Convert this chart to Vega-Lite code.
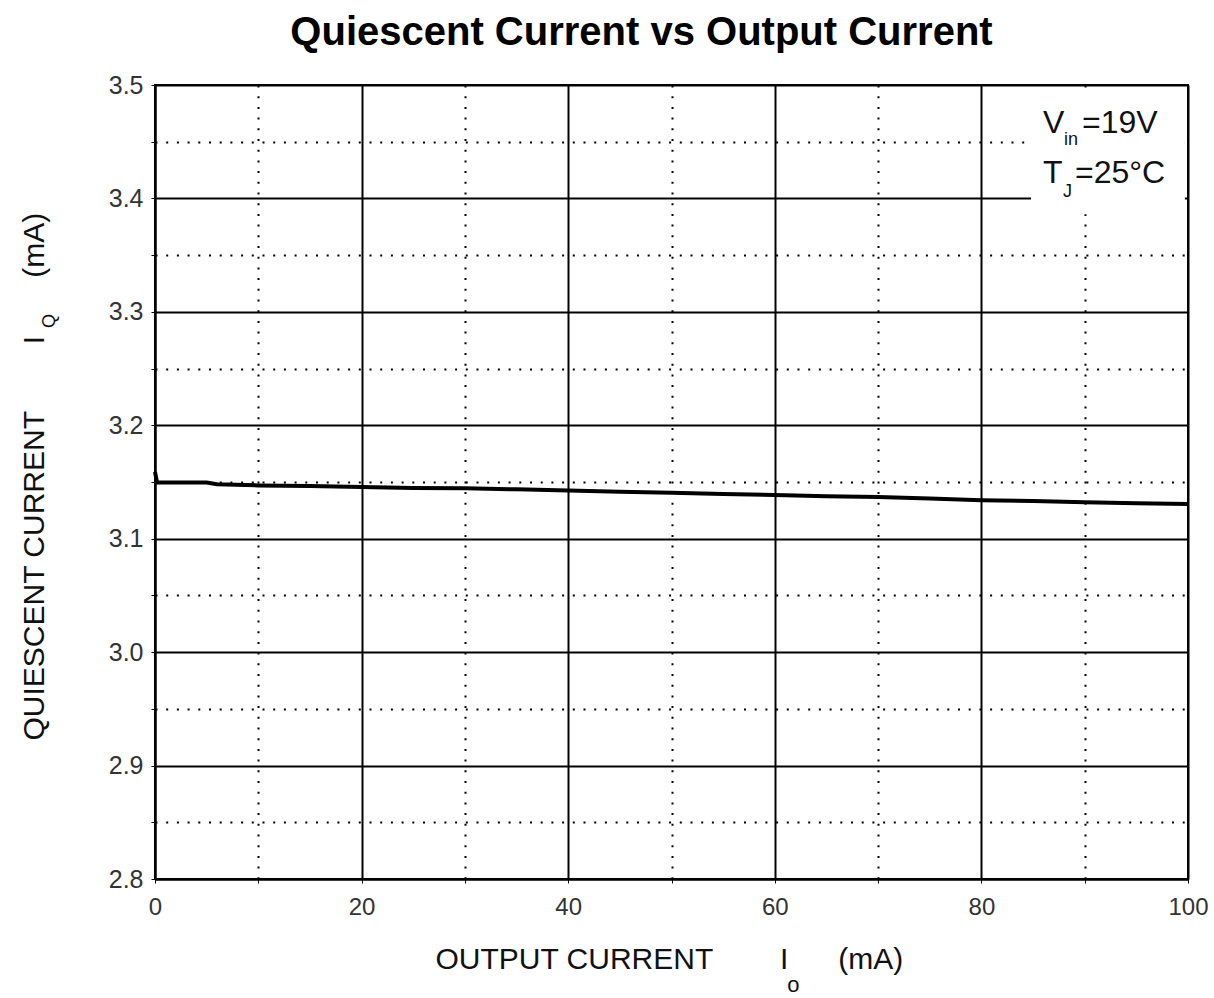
{
  "$schema": "https://vega.github.io/schema/vega-lite/v6.json",
  "width": 1033,
  "height": 794,
  "autosize": "none",
  "padding": {"left": 155, "top": 85, "right": 26, "bottom": 119},
  "background": "white",
  "config": {"view": {"stroke": "black", "strokeWidth": 2}, "font": "Liberation Sans"},
  "title": {
    "text": "Quiescent Current vs Output Current",
    "font": "Liberation Sans",
    "fontSize": 40,
    "fontWeight": "bold",
    "color": "black",
    "anchor": "middle",
    "frame": "group",
    "dx": -30,
    "dy": 50,
    "offset": 38,
    "baseline": "alphabetic"
  },
  "data": {
    "values": [
      {"io": 0, "iq": 3.159},
      {"io": 0.2, "iq": 3.1495},
      {"io": 5, "iq": 3.1495},
      {"io": 6, "iq": 3.148},
      {"io": 10, "iq": 3.147},
      {"io": 15, "iq": 3.1465},
      {"io": 20, "iq": 3.1455},
      {"io": 25, "iq": 3.1447},
      {"io": 30, "iq": 3.1444},
      {"io": 35, "iq": 3.1435},
      {"io": 40, "iq": 3.1425},
      {"io": 45, "iq": 3.1415},
      {"io": 50, "iq": 3.1405},
      {"io": 55, "iq": 3.1395},
      {"io": 60, "iq": 3.1385},
      {"io": 65, "iq": 3.1375},
      {"io": 70, "iq": 3.1368},
      {"io": 75, "iq": 3.1355},
      {"io": 80, "iq": 3.134},
      {"io": 85, "iq": 3.1332},
      {"io": 90, "iq": 3.1322},
      {"io": 95, "iq": 3.1312},
      {"io": 100, "iq": 3.1305}
    ]
  },
  "layer": [
    {
      "mark": {"type": "line", "color": "black", "strokeWidth": 4},
      "encoding": {
        "x": {
          "field": "io",
          "type": "quantitative",
          "scale": {"domain": [0, 100], "nice": false},
          "axis": {
            "values": [0, 10, 20, 30, 40, 50, 60, 70, 80, 90, 100],
            "labelExpr": "datum.value % 20 === 0 ? datum.label : ''",
            "grid": true,
            "gridColor": "black",
            "gridWidth": 2,
            "gridDash": {"condition": {"test": "datum.value % 20 === 0", "value": []}, "value": [2, 8.7]},
            "domainColor": "black",
            "domainWidth": 2,
            "tickColor": "black",
            "tickSize": 4,
            "labelFont": "Liberation Sans",
            "labelFontSize": 24,
            "labelColor": "#333",
            "labelPadding": 12,
            "labelFlush": false,
            "labelOverlap": false,
            "title": "OUTPUT CURRENT\u00a0\u00a0\u00a0\u00a0\u00a0\u00a0\u00a0\u00a0I\u00a0\u00a0\u00a0\u00a0\u00a0\u00a0(mA)",
            "titleFont": "Liberation Sans",
            "titleFontSize": 30,
            "titleFontWeight": "normal",
            "titleColor": "#111",
            "titleAlign": "left",
            "titleX": 280,
            "titleY": 89,
            "titleBaseline": "alphabetic"
          }
        },
        "y": {
          "field": "iq",
          "type": "quantitative",
          "scale": {"domain": [2.8, 3.5], "nice": false, "zero": false},
          "axis": {
            "values": [2.8, 2.85, 2.9, 2.95, 3.0, 3.05, 3.1, 3.15, 3.2, 3.25, 3.3, 3.35, 3.4, 3.45, 3.5],
            "labelExpr": "round(datum.value * 20) % 2 === 0 ? format(datum.value, '.1f') : ''",
            "grid": true,
            "gridColor": "black",
            "gridWidth": 2,
            "gridDash": {"condition": {"test": "round(datum.value * 20) % 2 === 0", "value": []}, "value": [2, 8.7]},
            "domainColor": "black",
            "domainWidth": 2,
            "tickColor": "black",
            "tickSize": 4,
            "labelFont": "Liberation Sans",
            "labelFontSize": 25,
            "labelColor": "#333",
            "labelPadding": 8,
            "labelFlush": false,
            "labelOverlap": false,
            "title": "QUIESCENT CURRENT\u00a0\u00a0\u00a0\u00a0\u00a0\u00a0\u00a0\u00a0I\u00a0\u00a0\u00a0\u00a0\u00a0\u00a0\u00a0(mA)",
            "titleFont": "Liberation Sans",
            "titleFontSize": 30,
            "titleFontWeight": "normal",
            "titleColor": "#111",
            "titleAngle": 270,
            "titleAlign": "left",
            "titleBaseline": "alphabetic",
            "titleX": -112,
            "titleY": 655
          }
        }
      }
    },
    {
      "data": {"values": [{}]},
      "mark": {"type": "rect", "color": "white"},
      "encoding": {
        "x": {"datum": 84.8},
        "x2": {"datum": 99.7},
        "y": {"datum": 3.386},
        "y2": {"datum": 3.497}
      }
    },
    {
      "data": {"values": [{}]},
      "mark": {"type": "text", "text": "V", "fontSize": 32, "align": "left", "baseline": "alphabetic", "color": "#111"},
      "encoding": {"x": {"datum": 85.96}, "y": {"datum": 3.4577}}
    },
    {
      "data": {"values": [{}]},
      "mark": {"type": "text", "text": "in", "fontSize": 18, "align": "left", "baseline": "alphabetic", "color": "#111"},
      "encoding": {"x": {"datum": 88.0}, "y": {"datum": 3.447}}
    },
    {
      "data": {"values": [{}]},
      "mark": {"type": "text", "text": "=19V", "fontSize": 32, "align": "left", "baseline": "alphabetic", "color": "#111"},
      "encoding": {"x": {"datum": 89.74}, "y": {"datum": 3.4577}}
    },
    {
      "data": {"values": [{}]},
      "mark": {"type": "text", "text": "T", "fontSize": 32, "align": "left", "baseline": "alphabetic", "color": "#111"},
      "encoding": {"x": {"datum": 85.96}, "y": {"datum": 3.4136}}
    },
    {
      "data": {"values": [{}]},
      "mark": {"type": "text", "text": "J", "fontSize": 18, "align": "left", "baseline": "alphabetic", "color": "#111"},
      "encoding": {"x": {"datum": 87.9}, "y": {"datum": 3.4012}}
    },
    {
      "data": {"values": [{}]},
      "mark": {"type": "text", "text": "=25°C", "fontSize": 32, "align": "left", "baseline": "alphabetic", "color": "#111"},
      "encoding": {"x": {"datum": 89.06}, "y": {"datum": 3.4136}}
    },
    {
      "data": {"values": [{}]},
      "mark": {"type": "text", "text": "o", "fontSize": 22, "align": "left", "baseline": "alphabetic", "color": "#111"},
      "encoding": {"x": {"datum": 61.2}, "y": {"datum": 2.7002}}
    },
    {
      "data": {"values": [{}]},
      "mark": {"type": "text", "text": "Q", "fontSize": 18, "angle": 270, "align": "left", "baseline": "alphabetic", "color": "#111"},
      "encoding": {"x": {"datum": -9.68}, "y": {"datum": 3.2857}}
    }
  ]
}
